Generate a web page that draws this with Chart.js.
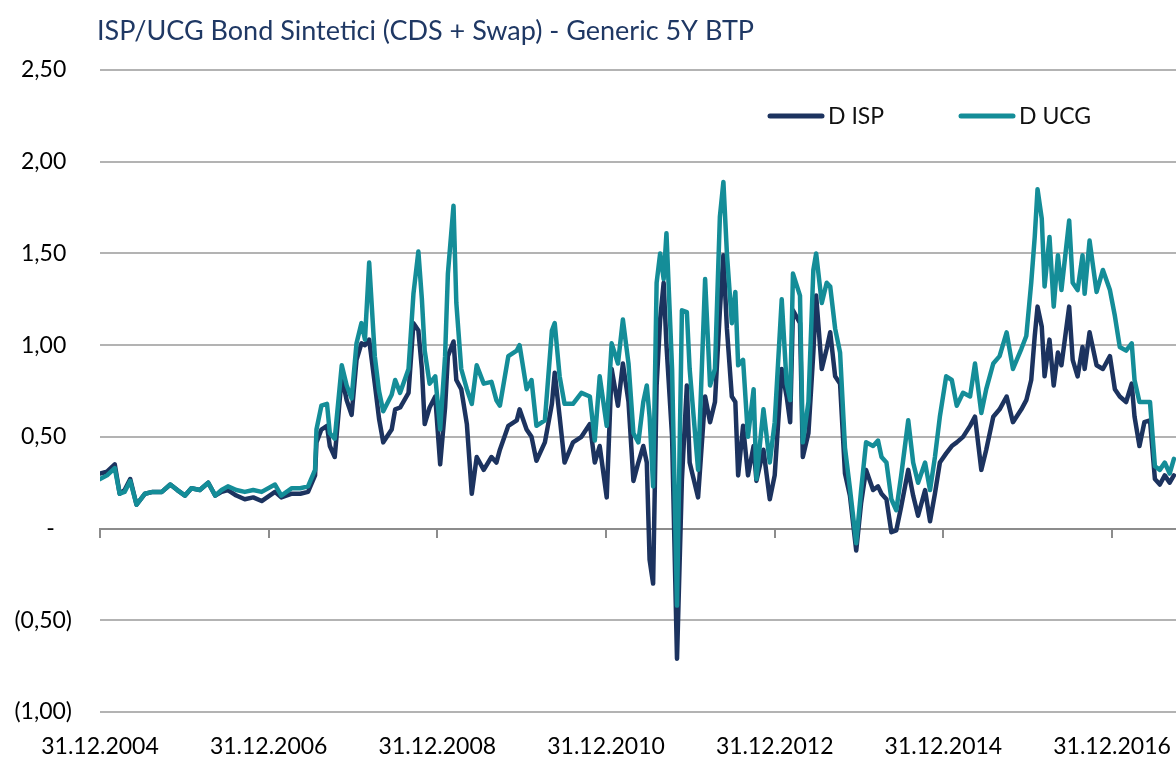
<!DOCTYPE html>
<html>
<head>
<meta charset="utf-8">
<script src="https://cdn.jsdelivr.net/npm/chart.js@4.4.0/dist/chart.umd.min.js"></script>
<style>
  body { margin: 0; background: #fff; }
  #wrap { width: 1176px; height: 758px; }
</style>
</head>
<body>
<div id="wrap"><canvas id="chart" width="1176" height="758"></canvas></div>
<script>
// months after 31.12.2004
const months = [0, 1, 2.1, 2.8, 3.5, 4.3, 5.2, 6.4, 7.5, 8.8,
  10, 11, 12.1, 13, 14.2, 15.4, 16.4, 17.3, 18.2, 19.4,
  20.6, 21.8, 23, 24.9, 25.8, 27.3, 28.5, 29.6, 30.6, 30.8,
  31.5, 32.3, 32.7, 33.4, 34.4, 35.1, 35.8, 36.5, 37.2, 37.7,
  38.3, 39.1, 39.7, 40.3, 41.5, 42, 42.7, 43.9, 44.6, 45.3,
  45.8, 46.2, 46.9, 47.7, 48.4, 49.1, 49.5, 50.3, 50.7, 51.4,
  52.2, 52.9, 53.6, 54.6, 55.7, 56.4, 56.9, 58.1, 59.3, 59.7,
  60.7, 61.4, 62.1, 63.3, 64.3, 64.7, 65.4, 66.1, 67.3, 68.5,
  69.7, 70.4, 71.1, 72.1, 72.8, 73.7, 74.4, 75.2, 75.9, 76.6,
  77.3, 77.8, 78.2, 78.7, 79.2, 79.7, 80.2, 80.6, 81.4, 82.1,
  82.8, 83.5, 83.9, 85.1, 86.1, 86.8, 87.5, 88.2, 88.7, 89.2,
  89.9, 90.4, 90.8, 91.5, 92.2, 93, 93.4, 94.4, 95.3, 96,
  97, 97.7, 98.2, 98.6, 99.6, 100, 100.8, 101.5, 101.9, 102.7,
  103.4, 103.9, 104.6, 105.3, 106, 106.7, 107.6, 108.3, 109, 110,
  110.7, 111.2, 111.9, 112.6, 113.3, 114, 115, 115.7, 116.4, 117.4,
  118.1, 118.8, 119.5, 120.4, 121.2, 121.9, 122.8, 123.8, 124.5, 125.4,
  126.1, 127.1, 128, 129, 129.9, 131.1, 131.8, 132.5, 133, 133.4,
  134, 134.4, 135.1, 135.7, 136.3, 136.8, 137.9, 138.4, 139.1, 139.8,
  140.1, 140.8, 141.8, 142.7, 143.7, 144.4, 145.1, 146, 146.8, 147.2,
  147.9, 148.6, 149.4, 150.1, 150.8, 151.5, 152.2, 152.8];

const dIsp = [0.30, 0.31, 0.35, 0.19, 0.21, 0.27, 0.13, 0.19, 0.20, 0.20,
  0.24, 0.21, 0.18, 0.22, 0.21, 0.25, 0.18, 0.20, 0.21, 0.18,
  0.16, 0.17, 0.15, 0.20, 0.17, 0.19, 0.19, 0.20, 0.29, 0.47,
  0.54, 0.56, 0.45, 0.39, 0.83, 0.70, 0.62, 0.92, 1.01, 1.00,
  1.03, 0.79, 0.60, 0.47, 0.54, 0.65, 0.66, 0.74, 1.12, 1.08,
  0.87, 0.57, 0.66, 0.72, 0.35, 0.66, 0.94, 1.02, 0.81, 0.76,
  0.57, 0.19, 0.39, 0.32, 0.39, 0.36, 0.43, 0.56, 0.59, 0.65,
  0.54, 0.50, 0.37, 0.47, 0.68, 0.85, 0.61, 0.36, 0.47, 0.50,
  0.57, 0.36, 0.45, 0.17, 0.87, 0.67, 0.90, 0.69, 0.26, 0.36,
  0.45, 0.36, -0.17, -0.30, 0.78, 1.14, 1.34, 1.00, 0.50, -0.71,
  0.27, 0.78, 0.36, 0.17, 0.72, 0.58, 0.69, 1.19, 1.49, 1.09,
  0.72, 0.69, 0.29, 0.56, 0.29, 0.45, 0.26, 0.43, 0.16, 0.29,
  0.87, 0.72, 0.58, 1.19, 1.12, 0.39, 0.52, 0.96, 1.27, 0.87,
  0.98, 1.07, 0.83, 0.79, 0.30, 0.18, -0.12, 0.14, 0.32, 0.21,
  0.23, 0.19, 0.16, -0.02, -0.01, 0.12, 0.32, 0.18, 0.07, 0.21,
  0.04, 0.19, 0.36, 0.41, 0.45, 0.47, 0.50, 0.56, 0.61, 0.32,
  0.43, 0.61, 0.65, 0.72, 0.58, 0.65, 0.70, 0.81, 1.05, 1.21,
  1.10, 0.83, 1.03, 0.78, 0.96, 0.89, 1.21, 0.92, 0.83, 0.99,
  0.87, 1.07, 0.89, 0.87, 0.94, 0.76, 0.72, 0.69, 0.79, 0.61,
  0.45, 0.58, 0.59, 0.27, 0.24, 0.29, 0.25, 0.29];

const dUcg = [0.27, 0.29, 0.33, 0.19, 0.20, 0.26, 0.13, 0.19, 0.20, 0.20,
  0.24, 0.21, 0.18, 0.22, 0.21, 0.25, 0.18, 0.21, 0.23, 0.21,
  0.20, 0.21, 0.20, 0.24, 0.18, 0.22, 0.22, 0.23, 0.32, 0.54,
  0.67, 0.68, 0.52, 0.49, 0.89, 0.78, 0.71, 1.01, 1.12, 1.03,
  1.45, 0.94, 0.75, 0.64, 0.73, 0.81, 0.74, 0.87, 1.28, 1.51,
  1.25, 0.97, 0.79, 0.83, 0.54, 0.94, 1.39, 1.76, 1.23, 0.87,
  0.76, 0.68, 0.89, 0.79, 0.80, 0.70, 0.67, 0.94, 0.97, 1.00,
  0.76, 0.81, 0.56, 0.59, 1.08, 1.12, 0.83, 0.68, 0.68, 0.74,
  0.72, 0.48, 0.83, 0.56, 1.01, 0.90, 1.14, 0.90, 0.52, 0.47,
  0.69, 0.78, 0.61, 0.23, 1.34, 1.50, 1.36, 1.61, 0.87, -0.42,
  1.19, 1.18, 0.87, 0.32, 1.36, 0.78, 0.87, 1.70, 1.89, 1.50,
  1.12, 1.29, 0.89, 0.92, 0.50, 0.76, 0.27, 0.65, 0.36, 0.58,
  1.25, 0.79, 0.70, 1.39, 1.27, 0.47, 0.69, 1.41, 1.50, 1.23,
  1.34, 1.32, 1.09, 0.96, 0.44, 0.22, -0.08, 0.21, 0.47, 0.45,
  0.48, 0.39, 0.36, 0.16, 0.10, 0.29, 0.59, 0.36, 0.25, 0.36,
  0.21, 0.39, 0.61, 0.83, 0.81, 0.67, 0.74, 0.72, 0.90, 0.63,
  0.76, 0.90, 0.94, 1.07, 0.87, 0.98, 1.05, 1.34, 1.59, 1.85,
  1.69, 1.32, 1.59, 1.21, 1.49, 1.30, 1.68, 1.34, 1.30, 1.49,
  1.28, 1.57, 1.29, 1.41, 1.30, 1.16, 0.99, 0.97, 1.01, 0.81,
  0.69, 0.69, 0.69, 0.34, 0.32, 0.36, 0.30, 0.38];

const seriesNames = ['D ISP', 'D UCG'];
const xTickLabels = ['31.12.2004', '31.12.2006', '31.12.2008', '31.12.2010', '31.12.2012', '31.12.2014', '31.12.2016'];
const titleText = 'ISP/UCG Bond Sintetici (CDS + Swap) - Generic 5Y BTP';

const NAVY = '#1c335f';
const TEAL = '#148d98';
const FONT = 'Lato, sans-serif';

function toPoints(vals) {
  return vals.map((v, i) => ({ x: months[i], y: v }));
}

function fmtY(v) {
  if (Math.abs(v) < 1e-9) return '-\u2002\u2005';
  const s = Math.abs(v).toFixed(2).replace('.', ',');
  return v < 0 ? '(' + s + ')' : s + '\u2005';
}

const keepEvery2y = axis => {
  axis.ticks = axis.ticks.filter(t => Math.abs(t.value % 24) < 1e-6);
};

// title + legend drawn on the canvas
const decor = {
  id: 'decor',
  afterDraw(chart) {
    const c = chart.ctx;
    c.save();
    c.font = '27px ' + FONT;
    c.fillStyle = '#1f3864';
    c.textBaseline = 'middle';
    c.textAlign = 'left';
    c.fillText(titleText, 97, 31);

    const items = [
      { x: 770, color: NAVY, label: seriesNames[0] },
      { x: 961, color: TEAL, label: seriesNames[1] }
    ];
    c.font = '23px ' + FONT;
    items.forEach(it => {
      c.strokeStyle = it.color;
      c.lineWidth = 5;
      c.lineCap = 'round';
      c.beginPath();
      c.moveTo(it.x, 116);
      c.lineTo(it.x + 52, 116);
      c.stroke();
      c.fillStyle = '#111';
      c.fillText(it.label, it.x + 58, 117);
    });
    c.restore();
  }
};

new Chart(document.getElementById('chart'), {
  type: 'line',
  data: {
    datasets: [{
      label: seriesNames[0],
      data: toPoints(dIsp),
      borderColor: NAVY,
      borderWidth: 4.5,
      pointRadius: 0,
      tension: 0,
      borderJoinStyle: 'round',
      borderCapStyle: 'round',
      order: 2
    }, {
      label: seriesNames[1],
      data: toPoints(dUcg),
      borderColor: TEAL,
      borderWidth: 4.5,
      pointRadius: 0,
      tension: 0,
      borderJoinStyle: 'round',
      borderCapStyle: 'round',
      order: 1
    }]
  },
  options: {
    responsive: false,
    animation: false,
    layout: { padding: { top: 70, right: 0, left: 0, bottom: 0 } },
    plugins: {
      legend: { display: false },
      title: { display: false },
      tooltip: { enabled: false }
    },
    scales: {
      x: {
        type: 'linear',
        min: 0,
        max: 153.1,
        position: 'bottom',
        afterBuildTicks: keepEvery2y,
        afterFit: s => { s.height = 46; s.paddingLeft = 0; s.paddingRight = 0; },
        grid: { display: false },
        border: { display: false },
        ticks: {
          stepSize: 24,
          includeBounds: false,
          padding: 13,
          maxRotation: 0,
          autoSkip: false,
          color: '#000',
          font: { family: FONT, size: 23 },
          callback: v => xTickLabels[Math.round(v / 24)]
        }
      },
      xz: {
        type: 'linear',
        min: 0,
        max: 153.1,
        position: { y: 0 },
        afterBuildTicks: keepEvery2y,
        afterFit: s => { s.paddingLeft = 0; s.paddingRight = 0; },
        grid: { drawOnChartArea: false, drawTicks: true, tickLength: 8, color: '#8c8c8c', lineWidth: 2 },
        border: { display: true, color: '#8c8c8c', width: 2 },
        ticks: { display: false, stepSize: 24, includeBounds: false }
      },
      y: {
        min: -1,
        max: 2.5,
        afterFit: s => { s.width = 100; },
        grid: {
          drawTicks: false,
          color: ctx => (ctx.tick && ctx.tick.value === 0) ? 'rgba(0,0,0,0)' : '#b3b3b3',
          lineWidth: 2
        },
        border: { display: false },
        ticks: {
          stepSize: 0.5,
          padding: 28,
          color: '#000',
          font: { family: FONT, size: 23 },
          callback: v => fmtY(v)
        }
      }
    }
  },
  plugins: [decor]
});
</script>
</body>
</html>
